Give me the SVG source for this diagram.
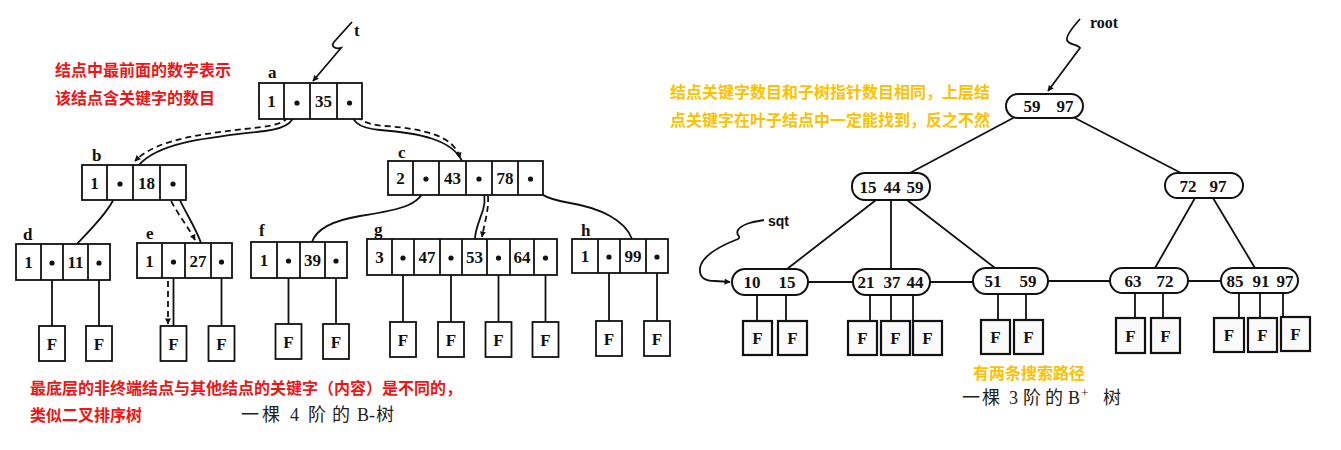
<svg xmlns="http://www.w3.org/2000/svg" width="1341" height="450" viewBox="0 0 1341 450">
<style>
.bx{fill:#fff;stroke:#111;stroke-width:1.8}
.dv{stroke:#111;stroke-width:1.8}
.num{font-family:"Liberation Serif",serif;font-weight:bold;font-size:17px;fill:#111;text-anchor:middle}
.rn{font-family:"Liberation Serif",serif;font-weight:bold;font-size:17px;fill:#111;text-anchor:middle}
.lbl{font-family:"Liberation Serif",serif;font-weight:bold;font-size:17px;fill:#111}
.dot{fill:#111}
.ln{fill:none;stroke:#111;stroke-width:1.8}
.dash{fill:none;stroke:#111;stroke-width:1.8;stroke-dasharray:6 4}
.pill{fill:#fff;stroke:#111;stroke-width:2}
.fb{fill:#fff;stroke:#111;stroke-width:1.8}
.fbr{fill:#fafafa;stroke:#111;stroke-width:2.2}
.red{font-family:"Noto Sans CJK SC",sans-serif;font-weight:bold;font-size:16px;fill:#f01414}
.yel{font-family:"Noto Sans CJK SC",sans-serif;font-weight:bold;font-size:16px;fill:#ffc000}
.cap{font-family:"Liberation Serif","Noto Sans CJK SC",serif;font-size:18px;fill:#222}
</style>
<defs>
<marker id="ah" viewBox="0 0 10 10" refX="9" refY="5" markerWidth="8" markerHeight="6" markerUnits="userSpaceOnUse" orient="auto"><path d="M0,0 L10,5 L0,10 z" fill="#111"/></marker>
</defs>

<!-- annotations -->
<text class="red" x="55" y="76">结点中最前面的数字表示</text>
<text class="red" x="55" y="104">该结点含关键字的数目</text>
<text class="red" x="30" y="394">最底层的非终端结点与其他结点的关键字（内容）是不同的，</text>
<text class="red" x="30" y="421">类似二叉排序树</text>
<text class="cap" x="241 262 290 308 332 357 369 376" y="421">一棵4阶的B-树</text>
<text class="yel" x="670" y="98">结点关键字数目和子树指针数目相同，上层结</text>
<text class="yel" x="670" y="126">点关键字在叶子结点中一定能找到，反之不然</text>
<text class="yel" x="973" y="379">有两条搜索路径</text>
<text class="cap" x="962 982 1009 1023 1045 1068" y="404">一棵3阶的B</text>
<text class="cap" x="1081" y="397" style="font-size:13px">+</text>
<text class="cap" x="1103" y="404">树</text>

<!-- connectors -->
<g id="connectors">
<path class="ln" d="M352,22 L334,42 C330,47 336,49 341,48 L313,81" marker-end="url(#ah)"/>
<text class="lbl" x="354" y="36">t</text>
<path class="ln" d="M297,103 C296,122 288,128 265,131 C215,137 160,141 139,165"/>
<path class="dash" d="M292,108 C290,120 283,124 262,127 C212,133 158,137 135,161" marker-end="url(#ah)"/>
<path class="ln" d="M349.5,103 C350,122 358,128 380,130 C420,133 452,140 462,161"/>
<path class="dash" d="M355,106 C356,120 364,124 385,126 C425,129 454,136 460,158" marker-end="url(#ah)"/>
<path class="ln" d="M120,184 C115,205 95,225 77,244"/>
<path class="ln" d="M173,184 C180,205 195,225 201,243"/>
<path class="dash" d="M167,192 C174,210 188,226 195,240" marker-end="url(#ah)"/>
<path class="ln" d="M426,179 C427,205 400,210 360,216 C330,221 316,230 312,242"/>
<path class="ln" d="M479,179 C485,192 486,200 483,210 C479,222 475,230 475,239"/>
<path class="dash" d="M488,196 C489,210 484,225 482,237" marker-end="url(#ah)"/>
<path class="ln" d="M531,179 C533,192 545,199 570,203 C600,208 625,220 632,239"/>
<!-- leaf pointers left -->
<path class="ln" d="M52,263 V326 M99,263 V326 M173.5,262 V326 M221.5,262 V326 M288.5,261 V324 M336,261 V324 M403,258 V322 M451,258 V322 M498.5,258 V322 M545.5,258 V322 M609,257 V321 M657,257 V321"/>
<path class="dash" d="M168,281 L168,324" marker-end="url(#ah)"/>
<!-- right tree -->
<path class="ln" d="M1080,19 C1072,28 1066,36 1067,40 C1068,45 1078,44 1080,48 L1048,91" marker-end="url(#ah)"/>
<text x="1090" y="28" style="font-family:'Liberation Serif',serif;font-weight:bold;font-size:16px;fill:#111">root</text>
<path class="ln" d="M764,220 C752,222 742,224 738,230 C735,236 742,236 738,239 C720,246 702,255 700,268 C699,278 705,281 715,281 L730,282" marker-end="url(#ah)"/>
<text x="768" y="226" style="font-family:'Liberation Sans',sans-serif;font-weight:bold;font-size:14px;fill:#111">sqt</text>
<path class="ln" d="M1015,117 L908,174 M1073,117 L1183,174 M876,200 L787,269 M891,200 L891,269 M907,200 L995,268 M1195,198 L1155,268 M1213,198 L1255,268"/>
<path class="ln" d="M808,282 H853 M930,282 H973 M1048,281 H1110 M1188,281 H1221"/>
<path class="ln" d="M757,295 V321 M786,295 V321 M870,295 V321 M891,295 V321 M913,295 V321 M998,294 V320 M1026,294 V320 M1135,293 V318 M1163,293 V318 M1239,293 V318 M1260,293 V318 M1283,293 V317"/>
</g>

<!-- left B-tree nodes -->
<g id="node-a">
<text class="lbl" x="268" y="78">a</text>
<rect class="bx" x="259" y="83" width="103" height="36"/>
<path class="dv" d="M284,83 V119 M310,83 V119 M337,83 V119"/>
<text class="num" x="271.5" y="107">1</text><text class="num" x="323.5" y="107">35</text>
<circle class="dot" cx="297" cy="103" r="2.6"/><circle class="dot" cx="349.5" cy="103" r="2.6"/>
</g>
<g id="node-b">
<text class="lbl" x="92" y="161">b</text>
<rect class="bx" x="82" y="165" width="104" height="35"/>
<path class="dv" d="M107,165 V200 M133,165 V200 M160,165 V200"/>
<text class="num" x="94.5" y="189">1</text><text class="num" x="146.5" y="189">18</text>
<circle class="dot" cx="120" cy="184" r="2.6"/><circle class="dot" cx="173" cy="184" r="2.6"/>
</g>
<g id="node-c">
<text class="lbl" x="398" y="158">c</text>
<rect class="bx" x="388" y="161" width="155" height="34"/>
<path class="dv" d="M413,161 V195 M439,161 V195 M466,161 V195 M492,161 V195 M518,161 V195"/>
<text class="num" x="400.5" y="184">2</text><text class="num" x="452.5" y="184">43</text><text class="num" x="505" y="184">78</text>
<circle class="dot" cx="426" cy="179" r="2.6"/><circle class="dot" cx="479" cy="179" r="2.6"/><circle class="dot" cx="530.5" cy="179" r="2.6"/>
</g>
<g id="node-d">
<text class="lbl" x="23" y="240">d</text>
<rect class="bx" x="16" y="244" width="94" height="36"/>
<path class="dv" d="M41,244 V280 M63,244 V280 M88,244 V280"/>
<text class="num" x="28.5" y="268">1</text><text class="num" x="75.5" y="268">11</text>
<circle class="dot" cx="52" cy="263" r="2.6"/><circle class="dot" cx="99" cy="263" r="2.6"/>
</g>
<g id="node-e">
<text class="lbl" x="146" y="239">e</text>
<rect class="bx" x="137" y="243" width="95" height="35"/>
<path class="dv" d="M162,243 V278 M185,243 V278 M211,243 V278"/>
<text class="num" x="149.5" y="267">1</text><text class="num" x="198" y="267">27</text>
<circle class="dot" cx="173.5" cy="262" r="2.6"/><circle class="dot" cx="221.5" cy="262" r="2.6"/>
</g>
<g id="node-f">
<text class="lbl" x="259" y="236">f</text>
<rect class="bx" x="251" y="242" width="96" height="36"/>
<path class="dv" d="M277,242 V278 M300,242 V278 M325,242 V278"/>
<text class="num" x="264" y="266">1</text><text class="num" x="312.5" y="266">39</text>
<circle class="dot" cx="288.5" cy="261" r="2.6"/><circle class="dot" cx="336" cy="261" r="2.6"/>
</g>
<g id="node-g">
<text class="lbl" x="374" y="235">g</text>
<rect class="bx" x="367" y="239" width="190" height="36"/>
<path class="dv" d="M392,239 V275 M414,239 V275 M440,239 V275 M462,239 V275 M487,239 V275 M510,239 V275 M534,239 V275"/>
<text class="num" x="379.5" y="263">3</text><text class="num" x="427" y="263">47</text><text class="num" x="474.5" y="263">53</text><text class="num" x="522" y="263">64</text>
<circle class="dot" cx="403" cy="258" r="2.6"/><circle class="dot" cx="451" cy="258" r="2.6"/><circle class="dot" cx="498.5" cy="258" r="2.6"/><circle class="dot" cx="545.5" cy="258" r="2.6"/>
</g>
<g id="node-h">
<text class="lbl" x="581" y="236">h</text>
<rect class="bx" x="572" y="239" width="96" height="34"/>
<path class="dv" d="M598,239 V273 M620,239 V273 M646,239 V273"/>
<text class="num" x="585" y="262">1</text><text class="num" x="633" y="262">99</text>
<circle class="dot" cx="609" cy="257" r="2.6"/><circle class="dot" cx="657" cy="257" r="2.6"/>
</g>
<g id="left-failure-nodes">
<rect class="fb" x="39" y="326" width="26" height="35"/><text class="num" x="52" y="350">F</text>
<rect class="fb" x="86" y="326" width="26" height="35"/><text class="num" x="99" y="350">F</text>
<rect class="fb" x="160.5" y="326" width="26" height="35"/><text class="num" x="173.5" y="350">F</text>
<rect class="fb" x="208.5" y="326" width="26" height="35"/><text class="num" x="221.5" y="350">F</text>
<rect class="fb" x="275.5" y="324" width="26" height="35"/><text class="num" x="288.5" y="348">F</text>
<rect class="fb" x="323" y="324" width="26" height="35"/><text class="num" x="336" y="348">F</text>
<rect class="fb" x="390" y="322" width="26" height="35"/><text class="num" x="403" y="346">F</text>
<rect class="fb" x="438" y="322" width="26" height="35"/><text class="num" x="451" y="346">F</text>
<rect class="fb" x="485.5" y="322" width="26" height="35"/><text class="num" x="498.5" y="346">F</text>
<rect class="fb" x="532.5" y="322" width="26" height="35"/><text class="num" x="545.5" y="346">F</text>
<rect class="fb" x="596" y="321" width="26" height="35"/><text class="num" x="609" y="345">F</text>
<rect class="fb" x="644" y="321" width="26" height="35"/><text class="num" x="657" y="345">F</text>
</g>

<!-- right B+ tree nodes -->
<g id="node-root">
<rect class="pill" x="1006" y="94" width="77" height="24" rx="12"/>
<text class="rn" x="1032" y="112">59</text><text class="rn" x="1065" y="112">97</text>
</g>
<g id="node-m1">
<rect class="pill" x="852" y="173" width="78" height="27" rx="13"/>
<text class="rn" x="868" y="193">15</text><text class="rn" x="892" y="193">44</text><text class="rn" x="915" y="193">59</text>
</g>
<g id="node-m2">
<rect class="pill" x="1165" y="173" width="78" height="25" rx="12.5"/>
<text class="rn" x="1188" y="192">72</text><text class="rn" x="1218" y="192">97</text>
</g>
<g id="leaf-1">
<rect class="pill" x="732" y="269" width="76" height="26" rx="13"/>
<text class="rn" x="752" y="288">10</text><text class="rn" x="787" y="288">15</text>
</g>
<g id="leaf-2">
<rect class="pill" x="853" y="269" width="77" height="26" rx="13"/>
<text class="rn" x="866" y="288">21</text><text class="rn" x="892" y="288">37</text><text class="rn" x="915" y="288">44</text>
</g>
<g id="leaf-3">
<rect class="pill" x="973" y="268" width="75" height="26" rx="13"/>
<text class="rn" x="993" y="287">51</text><text class="rn" x="1028" y="287">59</text>
</g>
<g id="leaf-4">
<rect class="pill" x="1110" y="268" width="78" height="25" rx="12.5"/>
<text class="rn" x="1133" y="287">63</text><text class="rn" x="1165" y="287">72</text>
</g>
<g id="leaf-5">
<rect class="pill" x="1221" y="268" width="77" height="25" rx="12.5"/>
<text class="rn" x="1235" y="287">85</text><text class="rn" x="1261" y="287">91</text><text class="rn" x="1285" y="287">97</text>
</g>
<g id="right-failure-nodes">
<rect class="fbr" x="743" y="321" width="29" height="34"/><text class="num" x="757.5" y="344">F</text>
<rect class="fbr" x="778" y="321" width="29" height="34"/><text class="num" x="792.5" y="344">F</text>
<rect class="fbr" x="848" y="321" width="29" height="34"/><text class="num" x="862.5" y="344">F</text>
<rect class="fbr" x="881" y="321" width="29" height="34"/><text class="num" x="895.5" y="344">F</text>
<rect class="fbr" x="913" y="321" width="29" height="34"/><text class="num" x="927.5" y="344">F</text>
<rect class="fbr" x="981" y="320" width="29" height="34"/><text class="num" x="995.5" y="343">F</text>
<rect class="fbr" x="1014" y="320" width="29" height="34"/><text class="num" x="1028.5" y="343">F</text>
<rect class="fbr" x="1116" y="318" width="29" height="35"/><text class="num" x="1130.5" y="342">F</text>
<rect class="fbr" x="1151" y="318" width="29" height="35"/><text class="num" x="1165.5" y="342">F</text>
<rect class="fbr" x="1214" y="318" width="30" height="34"/><text class="num" x="1229" y="341">F</text>
<rect class="fbr" x="1248" y="318" width="29" height="34"/><text class="num" x="1262.5" y="341">F</text>
<rect class="fbr" x="1281" y="317" width="29" height="34"/><text class="num" x="1295.5" y="340">F</text>
</g>
</svg>
